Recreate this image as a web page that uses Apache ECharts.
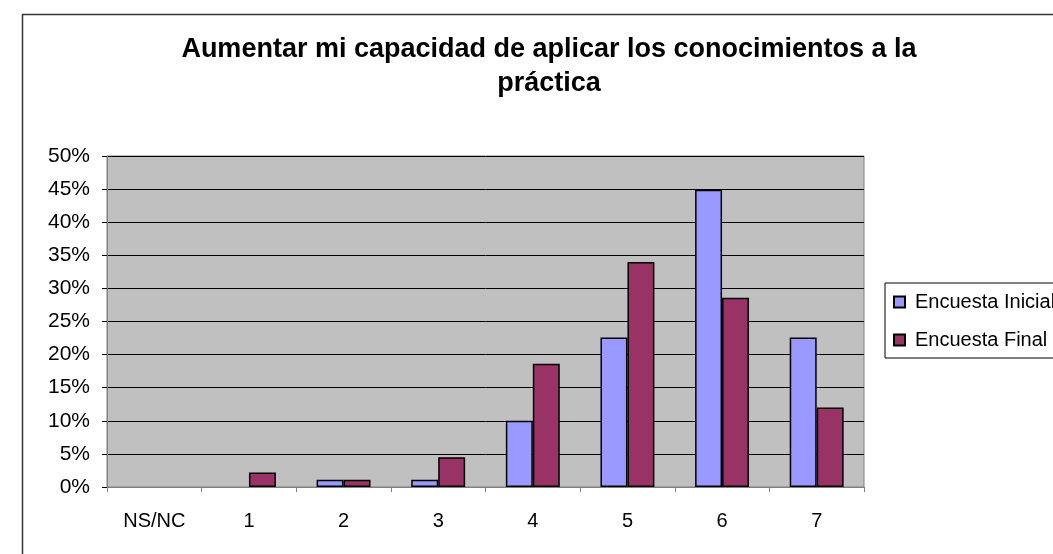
<!DOCTYPE html>
<html>
<head>
<meta charset="utf-8">
<script src="https://cdn.jsdelivr.net/npm/echarts@6/dist/echarts.min.js"></script>
<style>
  html, body { margin: 0; padding: 0; background: #fff; overflow: hidden; }
  #chart { width: 1098px; height: 554px; }
</style>
</head>
<body>
<div id="chart"></div>
<script>
const categories = ['NS/NC', '1', '2', '3', '4', '5', '6', '7'];
const inicial = [0, 0, 1.1, 1.1, 10, 22.6, 44.9, 22.6];
const final = [0, 2.2, 1.1, 4.5, 18.6, 34, 28.6, 12];
const seriesNames = ['Encuesta Inicial', 'Encuesta Final'];
const titleText = 'Aumentar mi capacidad de aplicar los conocimientos a la\npráctica';

const chart = echarts.init(document.getElementById('chart'));
const font = 'Liberation Sans, Arial, sans-serif';

// zero-height bars have no visible outline in the original
const toBarData = (arr) => arr.map(v => v === 0 ? { value: 0, itemStyle: { borderWidth: 0 } } : v);

chart.setOption({
  animation: false,
  textStyle: { fontFamily: font, color: '#000' },
  graphic: [{
    type: 'rect',
    shape: { x: 22.5, y: 14.5, width: 1053, height: 600 },
    style: { fill: 'none', stroke: '#333', lineWidth: 1.5 },
    silent: true
  }],
  title: {
    text: titleText,
    left: 'center',
    top: 28,
    textStyle: { fontFamily: font, fontSize: 27, fontWeight: 'bold', color: '#000', lineHeight: 34 }
  },
  legend: {
    orient: 'vertical',
    left: 885,
    top: 283,
    padding: [9, 10, 8, 8],
    backgroundColor: '#fff',
    borderColor: '#000',
    borderWidth: 1,
    itemWidth: 11,
    itemHeight: 11,
    itemGap: 18,
    icon: 'rect',
    textStyle: { fontFamily: font, fontSize: 20, color: '#000', lineHeight: 20, padding: [0, 0, 0, 5] },
    data: seriesNames
  },
  grid: { left: 107, right: 234, top: 156, bottom: 67, show: true, backgroundColor: '#c0c0c0', borderColor: '#808080', borderWidth: 1 },
  xAxis: {
    type: 'category',
    data: categories,
    axisLine: { lineStyle: { color: '#808080', width: 1 } },
    axisTick: { show: true, length: 5, lineStyle: { color: '#808080' } },
    axisLabel: { fontFamily: font, fontSize: 20, color: '#000', margin: 24 }
  },
  yAxis: {
    type: 'value',
    min: 0,
    max: 50,
    interval: 5,
    axisLine: { show: true, lineStyle: { color: '#808080', width: 1 } },
    axisTick: { show: true, length: 5, lineStyle: { color: '#000' } },
    splitLine: { lineStyle: { color: '#000', width: 1 } },
    axisLabel: { fontFamily: font, fontSize: 21, color: '#000', margin: 17, formatter: '{value}%' }
  },
  series: [
    {
      name: seriesNames[0],
      type: 'bar',
      data: toBarData(inicial),
      barGap: '0%',
      barCategoryGap: '43%',
      itemStyle: { color: '#9999ff', borderColor: '#000', borderWidth: 1.5 }
    },
    {
      name: seriesNames[1],
      type: 'bar',
      data: toBarData(final),
      barGap: '0%',
      barCategoryGap: '43%',
      itemStyle: { color: '#993366', borderColor: '#000', borderWidth: 1.5 }
    }
  ]
});
</script>
</body>
</html>
